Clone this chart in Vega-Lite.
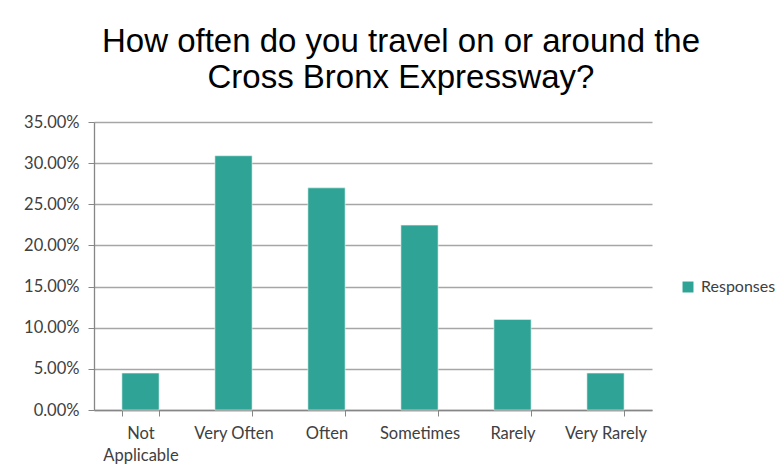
{
  "$schema": "https://vega.github.io/schema/vega-lite/v6.json",
  "autosize": {"type": "none"},
  "width": 558,
  "height": 288,
  "padding": {"left": 94, "top": 122, "right": 132, "bottom": 64},
  "background": "white",
  "title": {
    "text": ["How often do you travel on or around the", "Cross Bronx Expressway?"],
    "font": "Liberation Sans",
    "fontSize": 33,
    "fontWeight": "normal",
    "color": "#000000",
    "anchor": "middle",
    "dx": 28,
    "offset": 19,
    "lineHeight": 36
  },
  "data": {
    "values": [
      {"category": "Not Applicable", "value": 0.0449, "series": "Responses"},
      {"category": "Very Often", "value": 0.309, "series": "Responses"},
      {"category": "Often", "value": 0.270, "series": "Responses"},
      {"category": "Sometimes", "value": 0.2247, "series": "Responses"},
      {"category": "Rarely", "value": 0.1101, "series": "Responses"},
      {"category": "Very Rarely", "value": 0.0449, "series": "Responses"}
    ]
  },
  "mark": {"type": "bar", "stroke": "#e8f6f3", "strokeWidth": 0.6},
  "encoding": {
    "x": {
      "field": "category",
      "type": "nominal",
      "sort": null,
      "scale": {"paddingInner": 0.6, "paddingOuter": 0.3},
      "axis": {
        "title": null,
        "labelAngle": 0,
        "labelFont": "Lato",
        "labelFontSize": 16.5,
        "labelColor": "#404040",
        "labelPadding": 9,
        "labelLineHeight": 22,
        "labelExpr": "datum.label == 'Not Applicable' ? ['Not', 'Applicable'] : datum.label",
        "tickBand": "extent",
        "tickColor": "#868686",
        "tickSize": 6,
        "domainColor": "#868686",
        "domainWidth": 1.3
      }
    },
    "y": {
      "field": "value",
      "type": "quantitative",
      "scale": {"domain": [0, 0.35], "nice": false},
      "axis": {
        "title": null,
        "format": ".2%",
        "values": [0, 0.05, 0.1, 0.15, 0.2, 0.25, 0.3, 0.35],
        "labelFont": "Lato",
        "labelFontSize": 16.5,
        "labelColor": "#404040",
        "labelPadding": 9,
        "tickColor": "#868686",
        "tickSize": 6,
        "domainColor": "#868686",
        "domainWidth": 1.3,
        "gridColor": "#a6a6a6",
        "gridWidth": 1.3
      }
    },
    "color": {
      "field": "series",
      "type": "nominal",
      "scale": {"range": ["#2fa395"]},
      "legend": {
        "title": null,
        "orient": "none",
        "legendX": 586,
        "legendY": 157,
        "symbolType": "square",
        "symbolSize": 120,
        "symbolStrokeWidth": 0,
        "labelFont": "Lato",
        "labelFontSize": 16,
        "labelColor": "#404040",
        "labelOffset": 5
      }
    }
  },
  "config": {"view": {"stroke": null}}
}
